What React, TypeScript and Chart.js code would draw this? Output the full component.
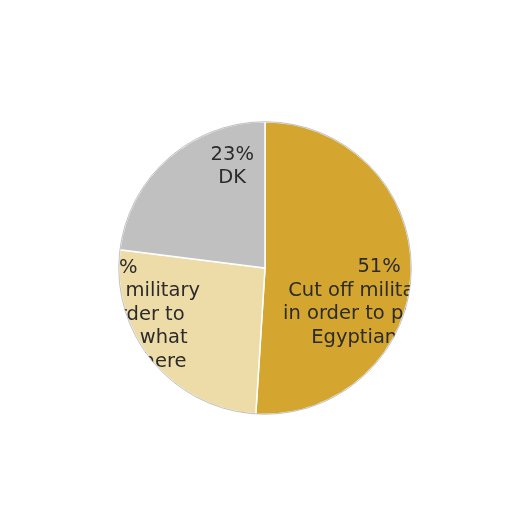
import { useEffect, useRef } from "react"
import { Chart, registerables } from "chart.js"

Chart.register(...registerables)

const categories = [
  "Cut off military aid\nin order to pressure\nEgyptian govt",
  "Continue military\naid in order to\ninfluence what\nhappens there",
  "DK",
]
const shares = [51, 26, 23]
const sliceColors = ["#D5A62F", "#EEDCA8", "#C0C0C0"]

// label block centres, as fractions of the radius from the pie centre
const labelDx = [0.78, -1.02, -0.224]
const labelDy = [0.235, 0.32, -0.694]

const insideLabels = {
  id: "insideLabels",
  afterDatasetsDraw(chart: Chart) {
    const ctx = chart.ctx
    const meta = chart.getDatasetMeta(0)
    const first: any = meta.data[0]
    if (!first) return
    const cx = first.x
    const cy = first.y
    const r = first.outerRadius

    ctx.save()
    ctx.beginPath()
    ctx.arc(cx, cy, r, 0, Math.PI * 2)
    ctx.clip()
    ctx.font = "19.5px 'DejaVu Sans', Verdana, sans-serif"
    ctx.fillStyle = "#2B2B2B"
    ctx.textAlign = "center"
    ctx.textBaseline = "middle"
    meta.data.forEach((_el: any, i) => {
      const x = cx + labelDx[i] * r
      const y = cy + labelDy[i] * r
      const lines = [shares[i] + "%", ...categories[i].split("\n")]
      const lh = 23.5
      const top = y - ((lines.length - 1) * lh) / 2
      lines.forEach((line, k) => ctx.fillText(line, x, top + k * lh))
    })
    ctx.restore()

    // thin outer rim
    ctx.save()
    ctx.beginPath()
    ctx.arc(cx, cy, r, 0, Math.PI * 2)
    ctx.strokeStyle = "rgba(150,150,150,0.6)"
    ctx.lineWidth = 1
    ctx.stroke()
    ctx.restore()
  },
}

export default function App() {
  const chartRef = useRef<HTMLCanvasElement>(null)
  const chartInstance = useRef<Chart | null>(null)

  useEffect(() => {
    if (!chartRef.current) return
    document.body.style.margin = "0"

    if (chartInstance.current) {
      chartInstance.current.destroy()
    }

    chartInstance.current = new Chart(chartRef.current, {
      type: "pie",
      data: {
        labels: categories,
        datasets: [
          {
            data: shares,
            backgroundColor: sliceColors,
            borderColor: "#FFFFFF",
            borderWidth: 1.5,
          },
        ],
      },
      options: {
        animation: false,
        responsive: false,
        layout: {
          padding: { left: 118, right: 100, top: 121, bottom: 97 },
        },
        plugins: {
          legend: { display: false },
          tooltip: { enabled: false },
        },
      },
      plugins: [insideLabels],
    })

    return () => {
      if (chartInstance.current) {
        chartInstance.current.destroy()
        chartInstance.current = null
      }
    }
  }, [])

  return (
    <div style={{ width: 512, height: 512, background: "#FFFFFF" }}>
      <canvas ref={chartRef} width={512} height={512} />
    </div>
  )
}
